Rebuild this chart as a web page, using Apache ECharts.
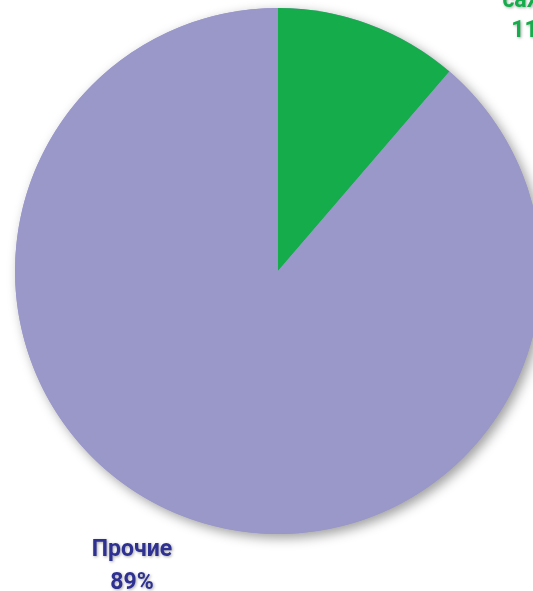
<!DOCTYPE html>
<html><head><meta charset="utf-8">
<script src="https://cdn.jsdelivr.net/npm/echarts@6/dist/echarts.min.js"></script>
<style>html,body{margin:0;padding:0;background:#fff}#c{width:533px;height:591px}</style>
</head><body><div id="c"></div>
<script>
const categories = ['сахар', 'Прочие'];
const values = [11.3, 88.7];
const colors = ['#15AD4B', '#9A98C9'];
const labelColors = ['#15AD4B', '#2E3192'];
const labelPos = [[533, 16], [132, 567]];
const labelLineHeights = [30, 33];

const total = values.reduce((a, b) => a + b, 0);
const chart = echarts.init(document.getElementById('c'));
chart.setOption({
  animation: false,
  series: [{
    // shadow of the whole disc, drawn underneath
    type: 'pie',
    silent: true,
    z: 1,
    center: [278, 271],
    radius: [0, 263],
    data: [{ value: total, name: '' }],
    itemStyle: {
      color: '#9A98C9',
      shadowBlur: 12, shadowColor: 'rgba(0,0,0,0.38)', shadowOffsetX: 4, shadowOffsetY: 4
    },
    label: { show: false },
    labelLine: { show: false }
  }, {
    type: 'pie',
    z: 2,
    center: [278, 271],
    radius: [0, 263],
    startAngle: 90,
    clockwise: true,
    data: categories.map((n, i) => ({
      name: n, value: values[i],
      itemStyle: { color: colors[i] },
      label: { color: labelColors[i], lineHeight: labelLineHeights[i] }
    })),
    label: {
      show: true,
      position: 'outside',
      formatter: p => p.name + '\n' + Math.round(p.percent) + '%',
      fontFamily: 'Roboto, sans-serif',
      fontWeight: 'bold',
      fontSize: 23,
      align: 'center',
      textShadowColor: 'rgba(0,0,0,0.35)',
      textShadowBlur: 3,
      textShadowOffsetX: 1,
      textShadowOffsetY: 1
    },
    labelLine: { show: false },
    labelLayout: p => ({ x: labelPos[p.dataIndex][0], y: labelPos[p.dataIndex][1], align: 'center', verticalAlign: 'middle' })
  }]
});
</script></body></html>
